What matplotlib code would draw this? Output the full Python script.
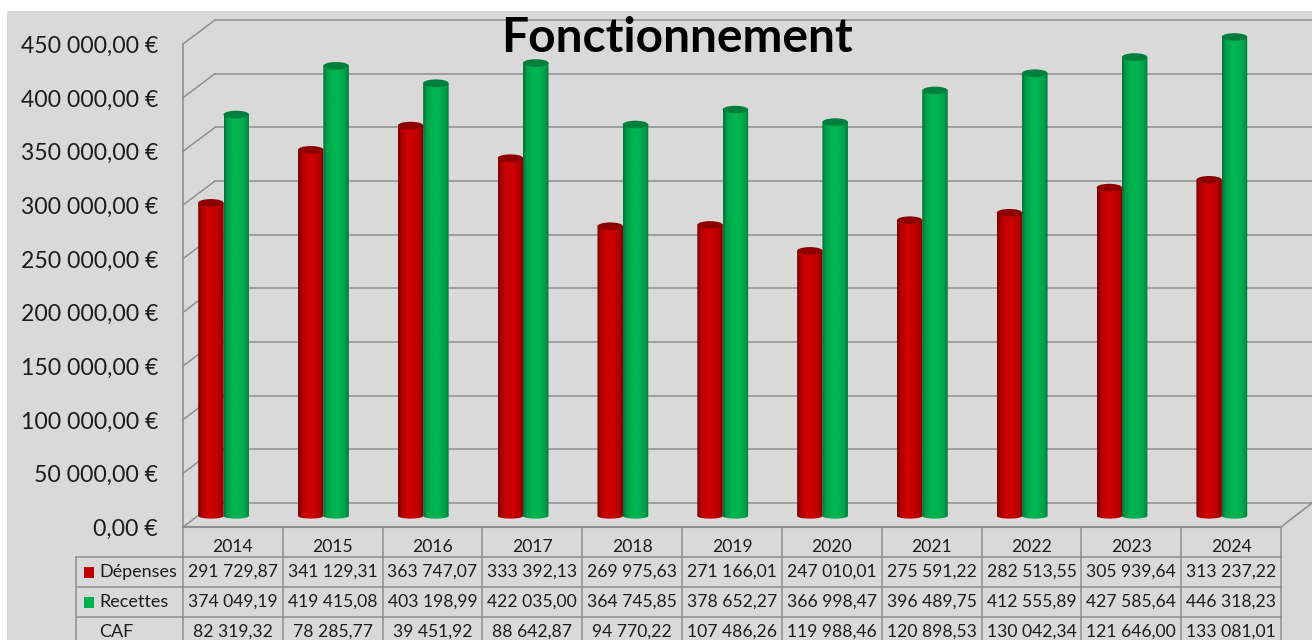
import numpy as np
import matplotlib
matplotlib.use('Agg')
import matplotlib.pyplot as plt
from matplotlib.colors import LinearSegmentedColormap
from matplotlib.patches import Ellipse, PathPatch, Rectangle
from matplotlib.path import Path

plt.rcParams['font.family'] = ['Lato', 'DejaVu Sans']

'''
    Fonctionnement: 3D looking cylinder chart with a data table below it
'''

years = [2014, 2015, 2016, 2017, 2018, 2019, 2020, 2021, 2022, 2023, 2024]
depenses = [291729.87, 341129.31, 363747.07, 333392.13, 269975.63, 271166.01,
            247010.01, 275591.22, 282513.55, 305939.64, 313237.22]
recettes = [374049.19, 419415.08, 403198.99, 422035.00, 364745.85, 378652.27,
            366998.47, 396489.75, 412555.89, 427585.64, 446318.23]
caf = [82319.32, 78285.77, 39451.92, 88642.87, 94770.22, 107486.26,
       119988.46, 120898.53, 130042.34, 121646.00, 133081.01]
y_ticks = [0, 50000, 100000, 150000, 200000, 250000, 300000, 350000, 400000, 450000]

W, H = 1312, 640
COL = 99.82             # px per category
LEFT = 183              # front left of the plot
FLOOR = 527             # front floor line
BACK_FLOOR = 503
BASE = 516              # cylinder base, halfway in depth
DX = 32
PX_PER_EUR = 483 / 450000

GRID = '#8f8f8f'
BG = '#d9d9d9'
TXT = '#1c1c1c'
RED = LinearSegmentedColormap.from_list(
    'r', [(0, '#7a0000'), (0.15, '#b00000'), (0.35, '#cc0000'), (0.6, '#cc0000'), (0.85, '#b00000'), (1, '#800000')])
GREEN = LinearSegmentedColormap.from_list(
    'g', [(0, '#00743a'), (0.15, '#00a04a'), (0.35, '#00b450'), (0.6, '#00b450'), (0.85, '#00a04a'), (1, '#007a3e')])


# the axes run in categories on x and in euros on y, these convert picture pixels to them
def px(x):
    return (x - LEFT) / COL


def py(y):
    return (BASE - y) / PX_PER_EUR


def euro(v):
    return f'{v:,.2f}'.replace(',', ' ').replace('.', ',')


def cylinder(ax, i, offset, value, cmap, top_color):
    x0 = i + px(LEFT + offset)
    w = 25.5 / COL
    ry = 3.8 / PX_PER_EUR
    rb = 2.6 / PX_PER_EUR
    k = 0.5523
    mid = x0 + w / 2
    verts = [(x0, value), (x0, 0),
             (x0, -k * rb), (mid - k * w / 2, -rb), (mid, -rb),
             (mid + k * w / 2, -rb), (x0 + w, -k * rb), (x0 + w, 0),
             (x0 + w, value), (x0, value)]
    codes = [Path.MOVETO, Path.LINETO, Path.CURVE4, Path.CURVE4, Path.CURVE4,
             Path.CURVE4, Path.CURVE4, Path.CURVE4, Path.LINETO, Path.CLOSEPOLY]
    clip = PathPatch(Path(verts, codes), fc='none', ec='none', transform=ax.transData)
    ax.add_patch(clip)
    img = ax.imshow(np.linspace(0, 1, 64).reshape(1, -1), cmap=cmap, aspect='auto',
                    extent=(x0, x0 + w, -rb, value), zorder=3, interpolation='bilinear')
    img.set_clip_path(clip)
    ax.add_patch(Ellipse((mid, value), w, 2 * ry, fc=top_color, ec='none', zorder=3.1))


def main():
    fig = plt.figure(figsize=(W / 100, H / 100), dpi=100, facecolor='white')
    ax = fig.add_axes([0, 0, 1, 1])
    ax.axis('off')

    ax.add_patch(Rectangle((px(7), py(640)), px(W) - px(7), py(11) - py(640), fc=BG, ec='none', zorder=0))

    # walls and gridlines
    x_l, x_r = px(LEFT), px(LEFT + COL * 11)
    dx = DX / COL
    front = FLOOR - BASE
    back = BACK_FLOOR - BASE
    for v in y_ticks:
        yf = v - front / PX_PER_EUR
        yb = v - back / PX_PER_EUR
        ax.plot([x_l + dx, px(W)], [yb, yb], color=GRID, lw=1.1, zorder=1)
        ax.plot([x_l, x_l + dx], [yf, yb], color=GRID, lw=1.1, zorder=1)
        ax.text(px(158), yf - 2.5 / PX_PER_EUR, euro(v) + ' €', ha='right', va='center', fontsize=16.6, color=TXT)
    yf0 = -front / PX_PER_EUR
    ax.plot([x_l, x_l], [yf0, y_ticks[-1] + yf0], color=GRID, lw=1.2, zorder=1)
    ax.plot([x_r, px(W)], [yf0, -back / PX_PER_EUR], color=GRID, lw=1.2, zorder=1)

    # cylinders
    for i in range(len(years)):
        cylinder(ax, i, 15.2, depenses[i], RED, '#8e0000')
        cylinder(ax, i, 40.5, recettes[i], GREEN, '#007f3c')

    # table under the floor
    rows = [FLOOR, 557, 587, 617, 647]
    for n, y in enumerate(rows):
        start = x_l if n == 0 else px(76)
        ax.plot([start, x_r], [py(y), py(y)], color=GRID, lw=1.5 if n == 0 else 1.1, zorder=2)
    for i in range(len(years) + 1):
        ax.plot([i, i], [py(FLOOR), py(640)], color=GRID, lw=1.1, zorder=2)
    ax.plot([px(76), px(76)], [py(557), py(640)], color=GRID, lw=1.1, zorder=2)

    names = ['Dépenses', 'Recettes', 'CAF']
    series = [depenses, recettes, caf]
    keys = ['#c00000', '#00b050', None]
    for r in range(3):
        yc = py((rows[r + 1] + rows[r + 2]) / 2)
        ax.text(px(99.5), yc, names[r], ha='left', va='center', fontsize=13, color=TXT)
        if keys[r]:
            ax.add_patch(Rectangle((px(83.5), yc - 5.5 / PX_PER_EUR), 10.5 / COL, 11 / PX_PER_EUR,
                                   fc=keys[r], ec='none', zorder=3))
        for i, v in enumerate(series[r]):
            ax.text(i + 0.5, yc, euro(v), ha='center', va='center', fontsize=12.6, color=TXT)
    for i, year in enumerate(years):
        ax.text(i + 0.5, py(547.5), str(year), ha='center', va='center', fontsize=12.6, color=TXT)

    ax.text(px(676.5), py(38), 'Fonctionnement', ha='center', va='center', fontsize=34.5,
            fontweight='bold', color='black', zorder=5)

    ax.set_xlim(px(0), px(W))
    ax.set_ylim(py(H), py(0))
    fig.savefig('out.png', dpi=100)


if __name__ == '__main__':
    main()
